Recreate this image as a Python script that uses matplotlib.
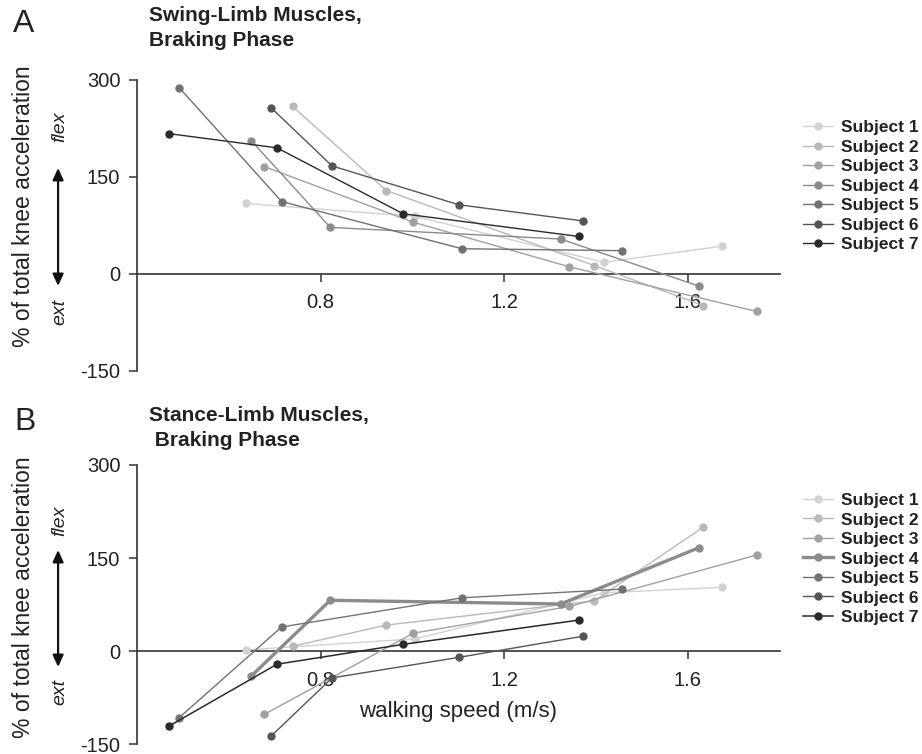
import matplotlib
matplotlib.use("Agg")
import matplotlib.pyplot as plt

plt.rcParams["font.family"] = ["Liberation Sans", "DejaVu Sans"]
plt.rcParams["axes.unicode_minus"] = False

subjects = ["Subject 1", "Subject 2", "Subject 3", "Subject 4",
            "Subject 5", "Subject 6", "Subject 7"]
colors = ["#d2d2d2", "#b9b9b9", "#a0a0a0", "#8b8b8b",
          "#727272", "#555555", "#2a2a2a"]

# walking speeds (m/s) for each subject
speed = [
    [0.637, 1.006, 1.417, 1.675],
    [0.739, 0.943, 1.396, 1.634],
    [0.677, 1.002, 1.342, 1.750],
    [0.649, 0.821, 1.323, 1.625],
    [0.492, 0.715, 1.108, 1.457],
    [0.692, 0.825, 1.101, 1.371],
    [0.469, 0.705, 0.980, 1.362],
]

# swing-limb muscles, braking phase (% of total knee acceleration)
swing = [
    [109, 89, 18, 43],
    [259, 129, 13, -49],
    [166, 80, 11, -58],
    [206, 72, 54, -19],
    [288, 112, 39, 36],
    [257, 167, 107, 82],
    [217, 195, 93, 58],
]

# stance-limb muscles, braking phase
stance = [
    [2, 20, 94, 103],
    [8, 42, 81, 200],
    [-102, 29, 72, 155],
    [-40, 82, 76, 167],
    [-107, 39, 86, 100],
    [-137, -43, -10, 24],
    [-121, -21, 11, 50],
]

stance_lw = [1, 1, 1, 2.4, 1, 1, 1.1]

fig = plt.figure(figsize=(9.22, 7.54), dpi=100)
ax_a = fig.add_axes([0.1486, 0.508, 0.697, 0.386])
ax_b = fig.add_axes([0.1486, 0.0129, 0.697, 0.3704])

spine_col = "#333333"
text_col = "#222222"


def style_axis(ax):
    ax.set_xlim(0.4, 1.8)
    ax.set_ylim(-150, 300)
    ax.spines["top"].set_visible(False)
    ax.spines["right"].set_visible(False)
    ax.spines["bottom"].set_position(("data", 0))
    for s in ("left", "bottom"):
        ax.spines[s].set_color(spine_col)
        ax.spines[s].set_linewidth(1.2)
    ax.set_xticks([0.8, 1.2, 1.6])
    ax.set_xticklabels(["0.8", "1.2", "1.6"])
    ax.set_yticks([-150, 0, 150, 300])
    ax.tick_params(axis="both", labelsize=14.5, color=spine_col,
                   labelcolor=text_col, length=6, width=1.1, pad=6)
    ax.tick_params(axis="x", pad=8)
    ax.patch.set_visible(False)


for ax, values, widths, leg_y in ((ax_a, swing, [1] * 7, 0.885),
                                  (ax_b, stance, stance_lw, 0.925)):
    for i in range(len(subjects)):
        ax.plot(speed[i], values[i], color=colors[i], lw=widths[i],
                marker="o", ms=5, mec=colors[i], mfc=colors[i],
                label=subjects[i], zorder=3)
    style_axis(ax)
    ax.legend(loc="upper left", bbox_to_anchor=(1.026, leg_y), frameon=False,
              prop={"weight": "bold", "size": 12.5}, handlelength=1.7,
              handletextpad=0.45, labelspacing=0.25, labelcolor=text_col,
              borderaxespad=0)

ax_b.set_xlabel("walking speed (m/s)", fontsize=16, color=text_col, labelpad=8)

# panel letters and titles
fig.text(0.014, 1 - 32 / 754, "A", fontsize=23, color=text_col, va="baseline")
fig.text(0.162, 1 - 6 / 754, "Swing-Limb Muscles,\nBraking Phase", fontsize=15,
         fontweight="bold", color=text_col, va="top", linespacing=1.42)
fig.text(0.016, 1 - 430 / 754, "B", fontsize=23, color=text_col, va="baseline")
fig.text(0.162, 1 - 406 / 754, "Stance-Limb Muscles,\n Braking Phase", fontsize=15,
         fontweight="bold", color=text_col, va="top", linespacing=1.42)

# y labels with flex/ext arrows
for yc, ya0, ya1, yflex, yext in ((1 - 206 / 754, 1 - 286 / 754, 1 - 168 / 754,
                                   1 - 127 / 754, 1 - 312 / 754),
                                  (1 - 597 / 754, 1 - 667 / 754, 1 - 550 / 754,
                                   1 - 521 / 754, 1 - 692 / 754)):
    fig.text(0.025, yc, "% of total knee acceleration", rotation=90,
             fontsize=16.5, color=text_col, ha="center", va="center")
    fig.text(0.065, yflex, "flex", rotation=90, style="italic", fontsize=14,
             color=text_col, ha="center", va="center")
    fig.text(0.065, yext, "ext", rotation=90, style="italic", fontsize=14,
             color=text_col, ha="center", va="center")
    fig.add_artist(matplotlib.patches.FancyArrowPatch(
        (0.063, ya0), (0.063, ya1), transform=fig.transFigure,
        arrowstyle="<|-|>,head_length=7,head_width=3.2", color="#111111",
        lw=1.6, shrinkA=0, shrinkB=0))

fig.savefig("out.png", dpi=100)
